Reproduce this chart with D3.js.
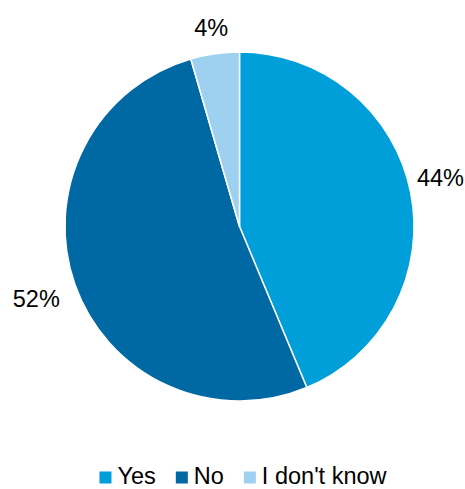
<!DOCTYPE html>
<html>
<head>
<meta charset="utf-8">
<script src="https://cdn.jsdelivr.net/npm/d3@7"></script>
<style>
  html, body { margin: 0; padding: 0; background: #ffffff; }
  svg { display: block; }
  text { font-family: "Liberation Sans", Arial, sans-serif; fill: #000; }
</style>
</head>
<body>
<svg id="chart" width="465" height="489"></svg>
<script>
// ---- data ----
const categories = ["Yes", "No", "I don't know"];
const values = [43.7, 51.8, 4.5];
const labels = ["44%", "52%", "4%"];
const colors = ["#009FDA", "#0068A2", "#9DD1EF"];

// ---- layout ----
const W = 465, H = 489;
const cx = 239.5, cy = 226.5, R = 174.5;
const fontSize = 23.5;
const labelGap = 16;   // gap between pie edge and label box
const minGap = 7.5;

const svg = d3.select("#chart");
const data = categories.map((c, i) => ({ cat: c, value: values[i], label: labels[i], color: colors[i] }));

const pie = d3.pie().value(d => d.value).sort(null);
const arcs = pie(data);
const arc = d3.arc().innerRadius(0).outerRadius(R);

const g = svg.append("g").attr("transform", `translate(${cx},${cy})`);
g.selectAll("path.slice")
  .data(arcs)
  .enter().append("path")
  .attr("class", "slice")
  .attr("d", arc)
  .attr("fill", d => d.data.color)
  .attr("stroke", "#ffffff")
  .attr("stroke-width", 1.5)
  .attr("stroke-linejoin", "round");

// ---- data labels (outside end, clamped inside the chart area) ----
const capH = fontSize * 0.72;
arcs.forEach(a => {
  const t = svg.append("text")
    .attr("font-size", fontSize)
    .attr("text-anchor", "middle")
    .text(a.data.label);
  const w = t.node().getComputedTextLength();
  const mid = (a.startAngle + a.endAngle) / 2;
  const dx = Math.sin(mid), dy = -Math.cos(mid);
  const support = Math.abs(dx) * w / 2 + Math.abs(dy) * capH / 2;
  const rr = R + labelGap + support;
  let x = cx + dx * rr, y = cy + dy * rr;
  // clamp horizontally into chart area
  const margin = 1;
  if (x + w / 2 > W - margin) x = W - margin - w / 2;
  if (x - w / 2 < margin) x = margin + w / 2;
  // keep the nearest box corner at least minGap from the pie
  const nearest = (xx, yy) => {
    const px = Math.max(xx - w / 2, Math.min(cx, xx + w / 2));
    const py = Math.max(yy - capH / 2, Math.min(cy, yy + capH / 2));
    return Math.hypot(px - cx, py - cy);
  };
  let guard = 0;
  while (nearest(x, y) < R + minGap && guard < 200) {
    y += (y < cy ? -0.5 : 0.5);
    guard++;
  }
  t.attr("x", x).attr("y", y + capH / 2);
});

// ---- legend ----
const legendBaseline = 483.5;
const sw = 12, swGap = 6, itemGap = 20;
const legend = svg.append("g");
let xpos = 0;
data.forEach(d => {
  const item = legend.append("g").attr("transform", `translate(${xpos},0)`);
  item.append("rect")
    .attr("x", 0).attr("y", legendBaseline - sw)
    .attr("width", sw).attr("height", sw)
    .attr("fill", d.color);
  const t = item.append("text")
    .attr("x", sw + swGap)
    .attr("y", legendBaseline)
    .attr("font-size", fontSize)
    .text(d.cat);
  xpos += sw + swGap + t.node().getComputedTextLength() + itemGap;
});
const totalW = xpos - itemGap;
legend.attr("transform", `translate(${243 - totalW / 2},0)`);
</script>
</body>
</html>
